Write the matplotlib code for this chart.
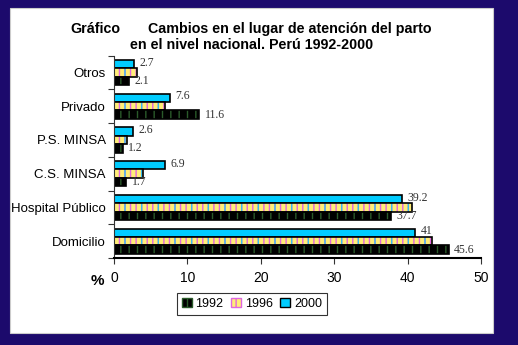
import numpy as np
import matplotlib.pyplot as plt
from matplotlib.patches import Rectangle, Patch

# Datos del gráfico (de arriba hacia abajo)
categorias = ['Otros', 'Privado', 'P.S. MINSA', 'C.S. MINSA', 'Hospital Público', 'Domicilio']
anios = ['1992', '1996', '2000']
v1992 = [2.1, 11.6, 1.2, 1.7, 37.7, 45.6]
v1996 = [3.2, 7.0, 1.8, 3.9, 40.6, 43.3]
v2000 = [2.7, 7.6, 2.6, 6.9, 39.2, 41]
xticks = [0, 10, 20, 30, 40, 50]

navy = '#1c0a6c'
cyan = '#00ccff'

fig = plt.figure(figsize=(5.18, 3.45), dpi=100)
fig.patch.set_facecolor(navy)
fig.patches.append(Rectangle((0.0193, 0.035), 0.9324, 0.942, transform=fig.transFigure,
                             facecolor='white', edgecolor='#cccccc', linewidth=0.8, zorder=-10))

ax = fig.add_axes([0.220, 0.252, 0.7085, 0.587])
ax.set_facecolor('none')

y = np.arange(len(categorias))
h = 0.25

# 2000: celeste liso
ax.barh(y - h, v2000, height=h, color=cyan, edgecolor='black', linewidth=1.2)
# 1996: rayas de colores
ax.barh(y, v1996, height=h, color='#ffee77', edgecolor='#e066e0', hatch='|||', linewidth=0)
ax.barh(y, v1996, height=h, fill=False, edgecolor='#33bbee', hatch='|', linewidth=0)
ax.barh(y, v1996, height=h, fill=False, edgecolor='black', linewidth=1.2)
# 1992: negro con rayas oscuras
ax.barh(y + h, v1992, height=h, color='black', edgecolor='#2a5a2a', hatch='||', linewidth=0)
ax.barh(y + h, v1992, height=h, fill=False, edgecolor='black', linewidth=1.2)

for yi, v in zip(y, v2000):
    ax.annotate(f'{v:g}', (v, yi - h), xytext=(4, 1), textcoords='offset points',
                va='center', ha='left', fontsize=8.5, family='Liberation Serif', color='#333333')
for yi, v in zip(y, v1992):
    ax.annotate(f'{v:g}', (v, yi + h), xytext=(4, 0), textcoords='offset points',
                va='center', ha='left', fontsize=8.5, family='Liberation Serif', color='#333333')

ax.set_ylim(len(categorias) - 0.5, -0.5)
ax.set_yticks(y)
ax.set_yticklabels(categorias, fontsize=9.5, family='Liberation Sans')
ax.tick_params(axis='y', length=0, pad=6)
ax.set_yticks(np.arange(-0.5, len(categorias)), minor=True)
ax.tick_params(axis='y', which='minor', length=4, width=0.8, color='#333333')

ax.set_xlim(0, 50)
ax.set_xticks(xticks)
ax.set_xticklabels([str(t) for t in xticks], fontsize=10, family='Liberation Sans')
ax.tick_params(axis='x', length=4, width=0.8, color='#333333', pad=5)

for s in ['top', 'right']:
    ax.spines[s].set_visible(False)
ax.spines['left'].set_color('#333333')
ax.spines['bottom'].set_linewidth(1.5)

fig.text(0.175, 0.175, '%', fontsize=11, fontweight='bold', family='Liberation Sans')

fig.text(0.135, 0.905, 'Gráfico', fontsize=10.3, fontweight='bold', family='Liberation Sans')
fig.text(0.285, 0.905, 'Cambios en el lugar de atención del parto', fontsize=10.3,
         fontweight='bold', family='Liberation Sans')
fig.text(0.485, 0.859, 'en el nivel nacional. Perú 1992-2000', fontsize=10.3,
         fontweight='bold', family='Liberation Sans', ha='center')

handles = [Patch(facecolor='black', edgecolor='#2a5a2a', hatch='||'),
           Patch(facecolor='#ffee77', edgecolor='#e066e0', hatch='|||'),
           Patch(facecolor=cyan, edgecolor='black')]
leg = fig.legend(handles, anios, loc='center', bbox_to_anchor=(0.486, 0.119), ncol=3,
                 frameon=True, fancybox=False, edgecolor='black',
                 handlelength=0.8, handleheight=0.8, handletextpad=0.3, columnspacing=0.6,
                 borderpad=0.4, prop={'family': 'Liberation Sans', 'size': 9})
leg.get_frame().set_linewidth(0.8)

fig.savefig('out.png', dpi=100, facecolor=fig.get_facecolor())
